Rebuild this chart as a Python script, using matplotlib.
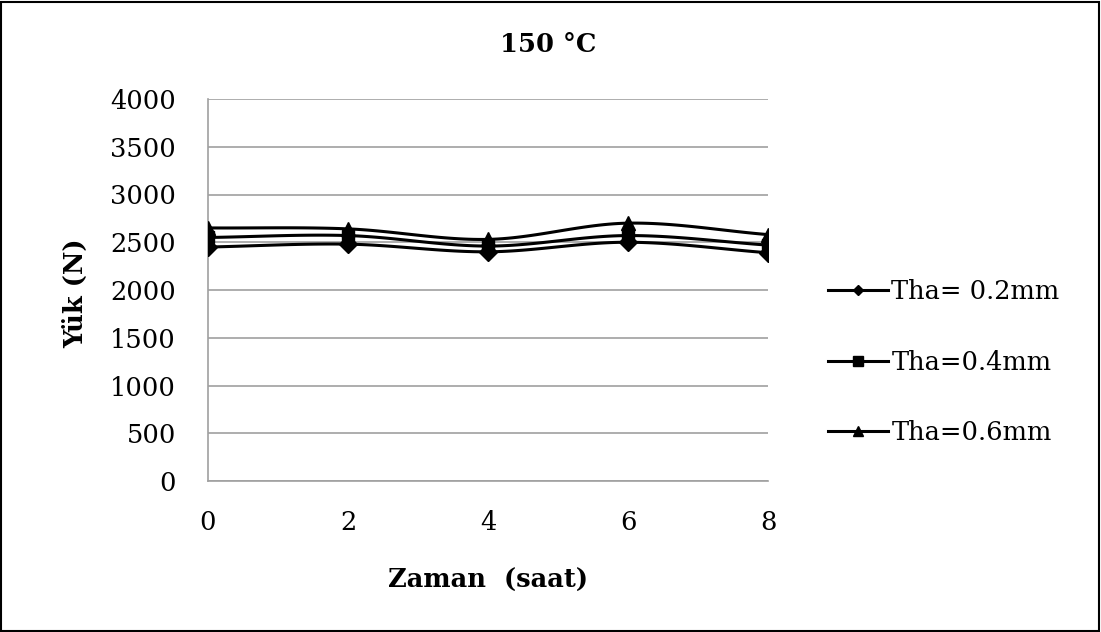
import numpy as np
import matplotlib
matplotlib.use("Agg")
import matplotlib.pyplot as plt
from matplotlib.patches import Rectangle

# Data
zaman = [0, 2, 4, 6, 8]
tha_02 = [2450, 2480, 2400, 2500, 2390]
tha_04 = [2550, 2570, 2460, 2570, 2470]
tha_06 = [2650, 2640, 2530, 2700, 2580]
series_labels = ["Tha= 0.2mm", "Tha=0.4mm", "Tha=0.6mm"]
yticks = [0, 500, 1000, 1500, 2000, 2500, 3000, 3500, 4000]
xticks = [0, 2, 4, 6, 8]

plt.rcParams['font.family'] = ['DejaVu Serif']

FS = 18.5


def smooth(x, y, n=30):
    """Catmull-Rom curve through the points (like a smoothed line)."""
    x = np.asarray(x, float)
    y = np.asarray(y, float)
    px = np.concatenate([[2 * x[0] - x[1]], x, [2 * x[-1] - x[-2]]])
    py = np.concatenate([[2 * y[0] - y[1]], y, [2 * y[-1] - y[-2]]])
    xs, ys = [], []
    t = np.linspace(0, 1, n)
    for i in range(1, len(px) - 2):
        p0, p1, p2, p3 = px[i - 1:i + 3]
        q0, q1, q2, q3 = py[i - 1:i + 3]
        for arr, a0, a1, a2, a3 in ((xs, p0, p1, p2, p3), (ys, q0, q1, q2, q3)):
            arr.extend(0.5 * ((2 * a1) + (-a0 + a2) * t
                              + (2 * a0 - 5 * a1 + 4 * a2 - a3) * t ** 2
                              + (-a0 + 3 * a1 - 3 * a2 + a3) * t ** 3))
    return np.array(xs), np.array(ys)


fig = plt.figure(figsize=(11.01, 6.32), dpi=100)
ax = fig.add_axes([208 / 1101, 1 - 481 / 632, 560 / 1101, 382 / 632])

markers = ["D", "s", "^"]
msizes = [9, 9, 10]
leg_sizes = [5, 7, 7]
handles = []
for vals, mk, ms, lms, lab in zip([tha_02, tha_04, tha_06], markers, msizes,
                                  leg_sizes, series_labels):
    sx, sy = smooth(zaman, vals)
    ax.plot(sx, sy, color="black", lw=2.2, solid_capstyle="round", zorder=3)
    ax.plot(zaman, vals, linestyle="none", marker=mk, ms=ms, color="black", zorder=4)
    h, = ax.plot([], [], color="black", lw=2.2, marker=mk, ms=lms)
    h.set_label(lab)
    handles.append(h)

ax.set_xlim(0, 8)
ax.set_ylim(0, 4000)
ax.set_yticks(yticks)
ax.set_xticks(xticks)
ax.yaxis.grid(True, color="#a0a0a0", lw=1.2)
ax.set_axisbelow(True)
for s in ["top", "right"]:
    ax.spines[s].set_visible(False)
for s in ["left", "bottom"]:
    ax.spines[s].set_color("#a0a0a0")
    ax.spines[s].set_linewidth(1.2)
ax.tick_params(axis="both", length=0, labelsize=FS)
ax.tick_params(axis="y", pad=23)
ax.tick_params(axis="x", pad=21)

fig.text(548 / 1101, 1 - 45 / 632, "150 \u00b0C", ha="center", va="center",
         fontsize=FS, fontweight="bold")
fig.text(76 / 1101, 1 - 293 / 632, "Yük (N)", ha="center", va="center",
         rotation=90, fontsize=FS, fontweight="bold")
fig.text(488 / 1101, 1 - 580 / 632, "Zaman  (saat)", ha="center", va="center",
         fontsize=FS, fontweight="bold")

fig.legend(handles=handles, loc="center left",
           bbox_to_anchor=(828 / 1101, 1 - 362 / 632), frameon=False,
           fontsize=FS, handlelength=2.35, handletextpad=0.12,
           labelspacing=1.78, borderaxespad=0, borderpad=0)

fig.patches.append(Rectangle((1 / 1101, 1 / 632), 1098 / 1101, 629 / 632,
                             transform=fig.transFigure, fill=False,
                             edgecolor="black", lw=1.5))

fig.savefig("out.png", dpi=100, facecolor="white")
